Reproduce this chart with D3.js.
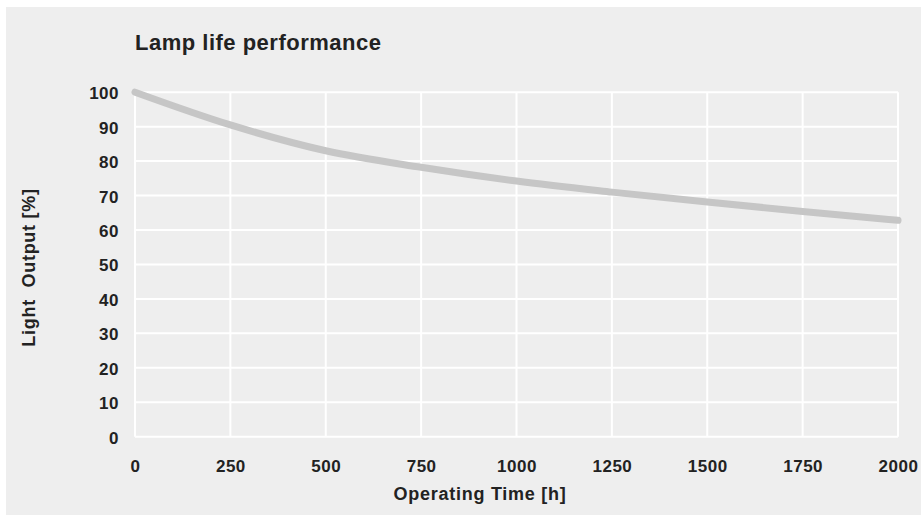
<!DOCTYPE html>
<meta charset="utf-8">
<style>
  body { margin: 0; background: #fff; }
  text { font-family: "Liberation Sans", Arial, sans-serif; font-weight: bold; fill: #222; }
</style>
<script src="https://d3js.org/d3.v7.min.js"></script>
<svg id="chart" width="921" height="519"></svg>
<script>
// operating time [h] and light output [%]
const hours = [0, 250, 500, 750, 1000, 1250, 1500, 1750, 2000];
const output = [100, 90.5, 83, 78.2, 74.2, 71, 68.1, 65.4, 62.8];
const xTicks = [0, 250, 500, 750, 1000, 1250, 1500, 1750, 2000];
const yTicks = [0, 10, 20, 30, 40, 50, 60, 70, 80, 90, 100];

const svg = d3.select("#chart");

// grey panel
svg.append("rect")
  .attr("x", 6).attr("y", 7)
  .attr("width", 915).attr("height", 508)
  .attr("fill", "#eeeeee");

const x = d3.scaleLinear().domain([0, 2000]).range([135, 898]);
const y = d3.scaleLinear().domain([0, 100]).range([436.7, 92.2]);

// grid
svg.append("g")
  .selectAll("line")
  .data(yTicks)
  .join("line")
    .attr("x1", x(0)).attr("x2", x(2000))
    .attr("y1", d => y(d)).attr("y2", d => y(d))
    .attr("stroke", "#fff").attr("stroke-width", 2);

svg.append("g")
  .selectAll("line")
  .data(xTicks)
  .join("line")
    .attr("x1", d => x(d)).attr("x2", d => x(d))
    .attr("y1", y(0)).attr("y2", y(100))
    .attr("stroke", "#fff").attr("stroke-width", 2);

// axes (labels only)
const yAxis = svg.append("g")
  .attr("transform", "translate(119,1)")
  .call(d3.axisLeft(y).tickValues(yTicks).tickSize(0).tickPadding(0).tickFormat(d3.format("d")));
yAxis.select(".domain").remove();
yAxis.selectAll("text").style("font-size", "17px").style("letter-spacing", "0.5px").attr("fill", "#222");

const xAxis = svg.append("g")
  .attr("transform", "translate(0,459.5)")
  .call(d3.axisBottom(x).tickValues(xTicks).tickSize(0).tickPadding(0).tickFormat(d3.format("d")));
xAxis.select(".domain").remove();
xAxis.selectAll("text").style("font-size", "17px").style("letter-spacing", "0.5px").attr("fill", "#222");

// curve
const data = hours.map((h, i) => ({h: h, v: output[i]}));
svg.append("path")
  .datum(data)
  .attr("fill", "none")
  .attr("stroke", "#c6c6c6")
  .attr("stroke-width", 7)
  .attr("stroke-linecap", "round")
  .attr("d", d3.line().x(d => x(d.h)).y(d => y(d.v)).curve(d3.curveMonotoneX));

// titles
svg.append("text")
  .attr("x", 135).attr("y", 50)
  .style("font-size", "22px")
  .style("letter-spacing", "0.5px")
  .text("Lamp life performance");

svg.append("text")
  .attr("x", 480).attr("y", 500)
  .attr("text-anchor", "middle")
  .style("font-size", "18px")
  .style("letter-spacing", "0.75px")
  .text("Operating Time [h]");

svg.append("text")
  .attr("transform", "translate(35,267.5) rotate(-90)")
  .attr("text-anchor", "middle")
  .attr("xml:space", "preserve")
  .style("font-size", "18px")
  .style("letter-spacing", "0.75px")
  .text("Light  Output [%]");
</script>
